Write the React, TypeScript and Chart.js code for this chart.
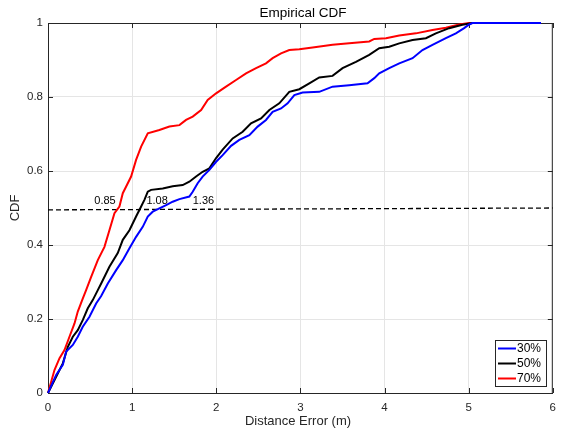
import React, { useEffect, useRef } from "react";
import { Chart, registerables } from "chart.js";

Chart.register(...registerables);

const seriesLabels = ["30%", "50%", "70%"];
const seriesColors = ["#0000ff", "#000000", "#ff0000"];

const blueX = [0, 0.097, 0.176, 0.216, 0.295, 0.354, 0.413, 0.493, 0.572, 0.632, 0.711, 0.81, 0.889, 0.968, 1.047, 1.126, 1.186, 1.245, 1.324, 1.404, 1.482, 1.562, 1.68, 1.72, 1.779, 1.838, 1.918, 1.998, 2.076, 2.176, 2.274, 2.393, 2.492, 2.591, 2.67, 2.77, 2.848, 2.928, 3.026, 3.224, 3.382, 3.58, 3.798, 3.878, 3.937, 4.056, 4.175, 4.333, 4.451, 4.57, 4.729, 4.848, 4.946, 5.006, 5.045, 5.86];
const blueY = [0, 0.049, 0.076, 0.112, 0.13, 0.152, 0.179, 0.206, 0.242, 0.262, 0.296, 0.332, 0.359, 0.391, 0.422, 0.449, 0.477, 0.49, 0.499, 0.508, 0.517, 0.524, 0.531, 0.544, 0.567, 0.585, 0.603, 0.625, 0.643, 0.668, 0.684, 0.697, 0.72, 0.738, 0.76, 0.769, 0.783, 0.805, 0.812, 0.814, 0.828, 0.832, 0.837, 0.851, 0.864, 0.878, 0.891, 0.905, 0.927, 0.941, 0.959, 0.972, 0.986, 0.996, 1.0, 1.0];

const blackX = [0, 0.097, 0.176, 0.236, 0.295, 0.354, 0.413, 0.473, 0.532, 0.592, 0.632, 0.73, 0.829, 0.889, 0.968, 1.047, 1.107, 1.146, 1.186, 1.226, 1.364, 1.482, 1.601, 1.68, 1.76, 1.838, 1.918, 1.998, 2.076, 2.195, 2.314, 2.413, 2.532, 2.631, 2.749, 2.868, 2.987, 3.106, 3.224, 3.382, 3.501, 3.66, 3.818, 3.937, 4.056, 4.175, 4.333, 4.492, 4.61, 4.768, 4.926, 5.045, 5.27];
const blackY = [0, 0.044, 0.08, 0.125, 0.152, 0.17, 0.197, 0.229, 0.251, 0.278, 0.296, 0.341, 0.378, 0.414, 0.44, 0.477, 0.504, 0.522, 0.544, 0.549, 0.553, 0.559, 0.562, 0.571, 0.585, 0.598, 0.607, 0.635, 0.658, 0.688, 0.706, 0.729, 0.742, 0.765, 0.783, 0.814, 0.821, 0.837, 0.853, 0.857, 0.878, 0.895, 0.914, 0.932, 0.936, 0.945, 0.954, 0.959, 0.972, 0.986, 0.995, 1.0, 1.0];

const redX = [0, 0.077, 0.137, 0.196, 0.255, 0.315, 0.354, 0.413, 0.453, 0.513, 0.592, 0.671, 0.73, 0.79, 0.849, 0.889, 0.929, 0.988, 1.047, 1.107, 1.186, 1.324, 1.443, 1.562, 1.641, 1.72, 1.82, 1.898, 1.998, 2.116, 2.235, 2.354, 2.473, 2.591, 2.67, 2.77, 2.868, 2.987, 3.145, 3.382, 3.58, 3.818, 3.878, 4.017, 4.175, 4.373, 4.57, 4.729, 4.887, 5.006, 5.1];
const redY = [0, 0.062, 0.094, 0.116, 0.152, 0.188, 0.22, 0.255, 0.278, 0.314, 0.359, 0.395, 0.44, 0.486, 0.504, 0.54, 0.558, 0.585, 0.63, 0.666, 0.702, 0.711, 0.72, 0.724, 0.738, 0.747, 0.765, 0.792, 0.81, 0.828, 0.846, 0.864, 0.878, 0.891, 0.905, 0.918, 0.927, 0.929, 0.934, 0.941, 0.945, 0.95, 0.957, 0.959, 0.966, 0.972, 0.981, 0.987, 0.996, 1.0, 1.0];

const refLineX = [0, 6];
const refLineY = [0.495, 0.5];

const annotationTexts = ["0.85", "1.08", "1.36"];
const annotationX = [0.55, 1.17, 1.72];
const annotationY = [0.52, 0.52, 0.52];

const xTicks = [0, 1, 2, 3, 4, 5, 6];
const yTicks = [0, 0.2, 0.4, 0.6, 0.8, 1];

const FONT = "'Liberation Sans', Arial, sans-serif";

function toPoints(xs: number[], ys: number[]) {
  return xs.map((x, i) => ({ x, y: ys[i] }));
}

const decorPlugin = {
  id: "decor",
  beforeDatasetsDraw(chart: any) {
    const { ctx, chartArea } = chart;
    const { left, right, top, bottom } = chartArea;
    const xs = chart.scales.x;
    const ys = chart.scales.y;
    ctx.save();
    ctx.strokeStyle = "#262626";
    ctx.lineWidth = 1;
    ctx.beginPath();
    ctx.moveTo(left, top + 0.5);
    ctx.lineTo(right, top + 0.5);
    ctx.moveTo(right - 0.5, top);
    ctx.lineTo(right - 0.5, bottom);
    ctx.stroke();
    ctx.beginPath();
    xTicks.forEach((t) => {
      const px = Math.round(xs.getPixelForValue(t)) + 0.5;
      ctx.moveTo(px, bottom);
      ctx.lineTo(px, bottom - 5);
      ctx.moveTo(px, top);
      ctx.lineTo(px, top + 5);
    });
    yTicks.forEach((t) => {
      const py = Math.round(ys.getPixelForValue(t)) + 0.5;
      ctx.moveTo(left, py);
      ctx.lineTo(left + 5, py);
      ctx.moveTo(right, py);
      ctx.lineTo(right - 5, py);
    });
    ctx.stroke();
    ctx.restore();
  },
  afterDraw(chart: any) {
    const { ctx, chartArea } = chart;
    const { top, bottom } = chartArea;
    const xs = chart.scales.x;
    const ys = chart.scales.y;
    ctx.save();
    ctx.fillStyle = "#000";
    ctx.font = `13.5px ${FONT}`;
    ctx.textAlign = "center";
    ctx.textBaseline = "middle";
    ctx.fillText("Empirical CDF", 303, 13);
    ctx.fillStyle = "#262626";
    ctx.font = `13px ${FONT}`;
    ctx.fillText("Distance Error (m)", 298, 421);
    ctx.save();
    ctx.translate(15, (top + bottom) / 2);
    ctx.rotate(-Math.PI / 2);
    ctx.fillText("CDF", 0, 0);
    ctx.restore();
    ctx.fillStyle = "#000";
    ctx.font = `11px ${FONT}`;
    ctx.textAlign = "left";
    annotationTexts.forEach((t, i) => {
      ctx.fillText(t, xs.getPixelForValue(annotationX[i]), ys.getPixelForValue(annotationY[i]));
    });
    const bx = 495.5, by = 340.5, bw = 51, bh = 46;
    ctx.fillStyle = "#fff";
    ctx.fillRect(bx, by, bw, bh);
    ctx.strokeStyle = "#262626";
    ctx.lineWidth = 1;
    ctx.strokeRect(bx, by, bw, bh);
    seriesLabels.forEach((lab, i) => {
      const yy = 348.5 + i * 15;
      ctx.strokeStyle = seriesColors[i];
      ctx.lineWidth = 2;
      ctx.beginPath();
      ctx.moveTo(498, yy);
      ctx.lineTo(516, yy);
      ctx.stroke();
      ctx.fillStyle = "#000";
      ctx.font = `12px ${FONT}`;
      ctx.textAlign = "left";
      ctx.textBaseline = "middle";
      ctx.fillText(lab, 517, yy + 0.5);
    });
    ctx.restore();
  },
};

export default function App() {
  const ref = useRef<HTMLCanvasElement>(null);
  useEffect(() => {
    document.body.style.margin = "0";
    const canvas = ref.current!;
    const mk = (label: string, xs: number[], ys: number[], color: string) => ({
      label,
      data: toPoints(xs, ys),
      borderColor: color,
      borderWidth: 2,
      showLine: true,
      pointRadius: 0,
      tension: 0,
      clip: 3,
    });
    const chart = new Chart(canvas, {
      type: "scatter",
      data: {
        datasets: [
          mk(seriesLabels[0], blueX, blueY, seriesColors[0]),
          mk(seriesLabels[1], blackX, blackY, seriesColors[1]),
          mk(seriesLabels[2], redX, redY, seriesColors[2]),
          {
            label: "ref",
            data: toPoints(refLineX, refLineY),
            borderColor: "#000",
            borderWidth: 1.3,
            borderDash: [5, 3],
            showLine: true,
            pointRadius: 0,
          },
        ],
      },
      options: {
        animation: false,
        responsive: false,
        devicePixelRatio: 1,
        layout: { padding: { left: 0, right: 11, top: 23, bottom: 0 } },
        plugins: {
          legend: { display: false },
          title: { display: false },
          tooltip: { enabled: false },
        },
        scales: {
          x: {
            type: "linear",
            min: 0,
            max: 6,
            afterFit: (s: any) => {
              s.height = 36;
            },
            ticks: {
              stepSize: 1,
              padding: 8,
              color: "#262626",
              font: { family: FONT, size: 11.5 },
              maxRotation: 0,
            },
            grid: { color: "#e5e5e5", drawTicks: false },
            border: { color: "#262626", width: 1 },
          },
          y: {
            type: "linear",
            min: 0,
            max: 1,
            afterFit: (s: any) => {
              s.width = 48;
            },
            ticks: {
              stepSize: 0.2,
              padding: 5,
              color: "#262626",
              font: { family: FONT, size: 11.5 },
              callback: (v: any) => String(Math.round(Number(v) * 10) / 10),
            },
            grid: { color: "#e5e5e5", drawTicks: false },
            border: { color: "#262626", width: 1 },
          },
        },
      },
      plugins: [decorPlugin],
    });
    return () => chart.destroy();
  }, []);
  return <canvas ref={ref} width={564} height={429} style={{ display: "block" }} />;
}
